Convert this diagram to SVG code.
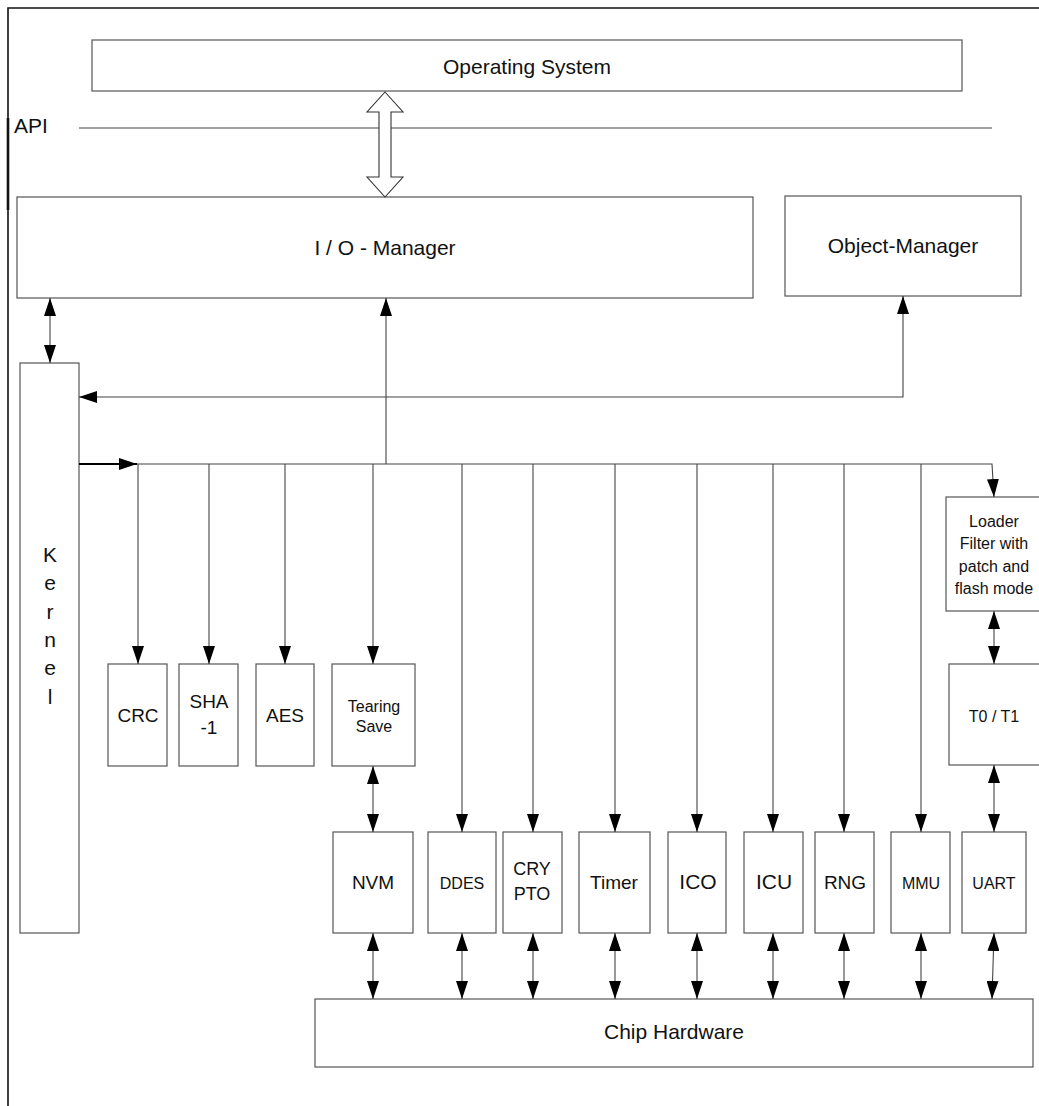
<svg xmlns="http://www.w3.org/2000/svg" width="1039" height="1106" viewBox="0 0 1039 1106">
<defs>
<marker id="ah" viewBox="0 0 18 12" refX="18" refY="6" markerWidth="18" markerHeight="12" orient="auto-start-reverse" markerUnits="userSpaceOnUse">
<path d="M0,0 L18,6 L0,12 z" fill="#000"/>
</marker>
</defs>
<style>
.box{fill:#fff;stroke:#555;stroke-width:1.2}
.t{font-family:"Liberation Sans",Arial,sans-serif;fill:#111;text-anchor:middle}
.big{font-size:21px}
.mid{font-size:19px}
.sm{font-size:16px}
.ln{fill:none;stroke:#444;stroke-width:1.1}
.a1{marker-end:url(#ah)}
.a2{marker-start:url(#ah);marker-end:url(#ah)}
</style>
<rect width="1039" height="1106" fill="#fff"/>
<g id="frame" fill="none" stroke="#111">
<path d="M8,1106 V8 H1039" stroke-width="1.6"/>
<path d="M8,118 V210" stroke-width="2.6"/>
</g>
<g id="api">
<text class="t big" x="14" y="133" style="text-anchor:start">API</text>
<line x1="79" y1="128" x2="992" y2="128" stroke="#444" stroke-width="1.1"/>
</g>
<g id="os"><rect class="box" x="92" y="40" width="870" height="51"/><text class="t big" x="527" y="74">Operating System</text></g>
<g id="io"><rect class="box" x="17" y="197" width="736" height="101"/><text class="t big" x="385" y="255">I / O - Manager</text></g>
<g id="om"><rect class="box" x="785" y="196" width="236" height="100"/><text class="t big" x="903" y="253">Object-Manager</text></g>
<g id="kernel"><rect class="box" x="20" y="363" width="59" height="570"/>
<text class="t big" x="50"><tspan x="50" y="562">K</tspan><tspan x="50" y="590">e</tspan><tspan x="50" y="619">r</tspan><tspan x="50" y="647">n</tspan><tspan x="50" y="675">e</tspan><tspan x="50" y="704">l</tspan></text></g>
<g id="crc"><rect class="box" x="108" y="664" width="59" height="102"/><text class="t mid" x="138" y="722">CRC</text></g>
<g id="sha"><rect class="box" x="179" y="664" width="59" height="102"/><text class="t mid" x="209"><tspan x="209" y="708">SHA</tspan><tspan x="209" y="734">-1</tspan></text></g>
<g id="aes"><rect class="box" x="256" y="664" width="58" height="102"/><text class="t mid" x="285" y="722">AES</text></g>
<g id="tearing"><rect class="box" x="332" y="664" width="83" height="102"/><text class="t sm" x="374"><tspan x="374" y="712">Tearing</tspan><tspan x="374" y="732">Save</tspan></text></g>
<g id="loader"><rect class="box" x="946" y="497" width="100" height="114"/><text class="t sm" x="994"><tspan x="994" y="527">Loader</tspan><tspan x="994" y="549">Filter  with</tspan><tspan x="994" y="572">patch and</tspan><tspan x="994" y="594">flash mode</tspan></text></g>
<g id="t0t1"><rect class="box" x="949" y="664" width="97" height="101"/><text class="t sm" x="994" y="722">T0 / T1</text></g>
<g id="nvm"><rect class="box" x="333" y="832" width="80" height="101"/><text class="t mid" x="373" y="889">NVM</text></g>
<g id="ddes"><rect class="box" x="428" y="832" width="68" height="101"/><text class="t sm" x="462" y="889">DDES</text></g>
<g id="crypto"><rect class="box" x="503" y="832" width="59" height="101"/><text class="t" style="font-size:18px" x="532"><tspan x="532" y="875">CRY</tspan><tspan x="532" y="900">PTO</tspan></text></g>
<g id="timer"><rect class="box" x="579" y="832" width="71" height="101"/><text class="t mid" x="614" y="889">Timer</text></g>
<g id="ico"><rect class="box" x="668" y="832" width="58" height="101"/><text class="t big" x="698" y="889">ICO</text></g>
<g id="icu"><rect class="box" x="744" y="832" width="59" height="101"/><text class="t big" x="774" y="889">ICU</text></g>
<g id="rng"><rect class="box" x="815" y="832" width="59" height="101"/><text class="t mid" x="845" y="889">RNG</text></g>
<g id="mmu"><rect class="box" x="891" y="832" width="59" height="101"/><text class="t sm" x="921" y="889">MMU</text></g>
<g id="uart"><rect class="box" x="962" y="832" width="64" height="101"/><text class="t sm" x="994" y="889">UART</text></g>
<g id="chip"><rect class="box" x="315" y="999" width="718" height="68"/><text class="t big" x="674" y="1039">Chip Hardware</text></g>
<g id="connectors">
<polygon points="385,92 403,112 391,112 391,177 403,177 385,197 367,177 379,177 379,112 367,112" fill="#fff" stroke="#333" stroke-width="1.1"/>
<line class="ln a2" x1="50" y1="298" x2="50" y2="363"/>
<polyline class="ln a2" points="903,296 903,397 79,397"/>
<line class="ln a1" x1="386" y1="464" x2="386" y2="298"/>
<line class="a1" x1="79" y1="464" x2="137" y2="464" stroke="#000" stroke-width="2"/>
<polyline class="ln a1" points="137,464 992,464 994,497"/>
<line class="ln a1" x1="138" y1="464" x2="138" y2="664"/>
<line class="ln a1" x1="209" y1="464" x2="209" y2="664"/>
<line class="ln a1" x1="285" y1="464" x2="285" y2="664"/>
<line class="ln a1" x1="373" y1="464" x2="373" y2="664"/>
<line class="ln a1" x1="462" y1="464" x2="462" y2="832"/>
<line class="ln a1" x1="533" y1="464" x2="533" y2="832"/>
<line class="ln a1" x1="615" y1="464" x2="615" y2="832"/>
<line class="ln a1" x1="697" y1="464" x2="697" y2="832"/>
<line class="ln a1" x1="773" y1="464" x2="773" y2="832"/>
<line class="ln a1" x1="844" y1="464" x2="844" y2="832"/>
<line class="ln a1" x1="921" y1="464" x2="921" y2="832"/>
<line class="ln a2" x1="994" y1="611" x2="994" y2="664"/>
<line class="ln a2" x1="994" y1="765" x2="994" y2="832"/>
<line class="ln a2" x1="373" y1="766" x2="373" y2="832"/>
<line class="ln a2" x1="373" y1="933" x2="373" y2="999"/>
<line class="ln a2" x1="462" y1="933" x2="462" y2="999"/>
<line class="ln a2" x1="533" y1="933" x2="533" y2="999"/>
<line class="ln a2" x1="615" y1="933" x2="615" y2="999"/>
<line class="ln a2" x1="697" y1="933" x2="697" y2="999"/>
<line class="ln a2" x1="773" y1="933" x2="773" y2="999"/>
<line class="ln a2" x1="844" y1="933" x2="844" y2="999"/>
<line class="ln a2" x1="921" y1="933" x2="921" y2="999"/>
<line class="ln a2" x1="994" y1="933" x2="992" y2="999"/>
</g>
</svg>
